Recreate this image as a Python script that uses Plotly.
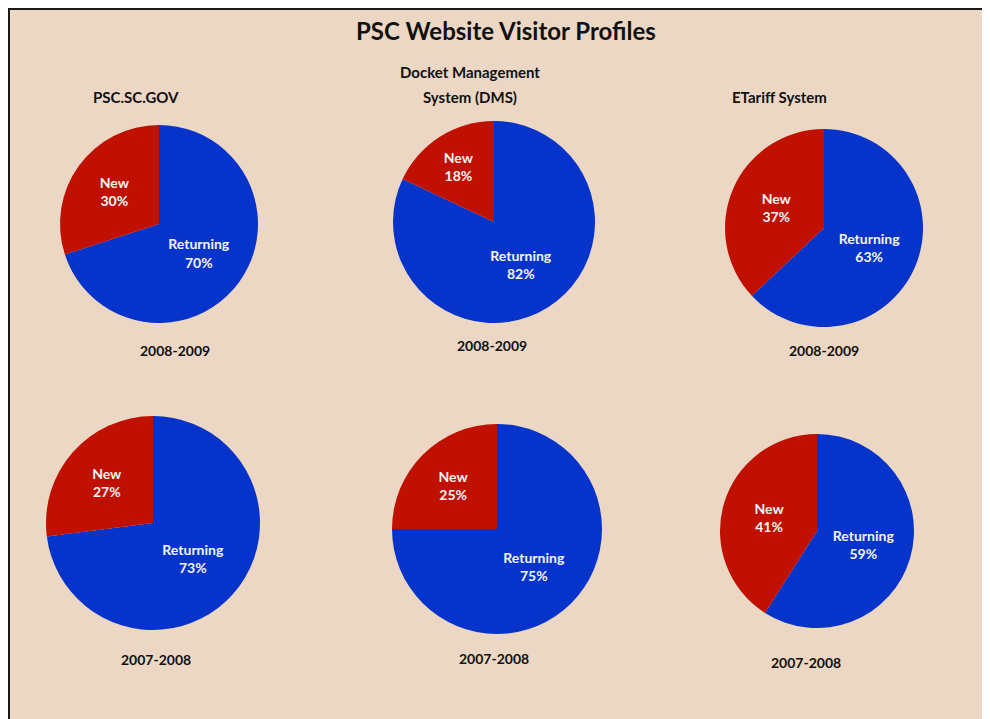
import plotly.graph_objects as go

# page body adds an 8px offset; figure is sized to fill the rest of the window
OFF = 8
W, H = 990 - OFF, 719 - OFF

title = "PSC Website Visitor Profiles"
systems = [["PSC.SC.GOV"], ["Docket Management", "System (DMS)"], ["ETariff System"]]
periods = ["2008-2009", "2007-2008"]
slice_labels = ["Returning", "New"]

# percent values [Returning, New] per system, per period
returning_2008_2009 = [70, 82, 63]
new_2008_2009 = [30, 18, 37]
returning_2007_2008 = [73, 75, 59]
new_2007_2008 = [27, 25, 41]

colors = ["#0633C9", "#BF1000"]


def px(x):
    return (x - OFF) / W


def py(y):
    return 1 - (y - OFF) / H


# layout geometry in window pixels: pie centers and radii
centers = [[(159, 224), (494, 222), (824, 228)],
           [(153, 523), (497, 529), (817, 531)]]
radii = [[99, 101, 99], [107, 105, 97]]
sys_title_x = [136, 470, 779]
sys_title_y = [[97], [72, 97], [97]]
period_pos = [[(175, 350), (492, 345), (824, 350)],
              [(156, 659), (494, 658), (806, 662)]]

values = [
    list(zip(returning_2008_2009, new_2008_2009)),
    list(zip(returning_2007_2008, new_2007_2008)),
]

fig = go.Figure()
for row in range(2):
    for col in range(3):
        cx, cy = centers[row][col]
        r = radii[row][col]
        fig.add_trace(go.Pie(
            labels=slice_labels,
            values=list(values[row][col]),
            sort=False,
            direction="clockwise",
            rotation=0,
            marker=dict(colors=colors, line=dict(width=0)),
            texttemplate="%{label}<br>%{value}%",
            textposition="inside",
            insidetextorientation="horizontal",
            textfont=dict(family="Lato", size=14, color="#F4F4F4", weight="bold"),
            showlegend=False,
            hoverinfo="label+value",
            domain=dict(x=[px(cx - r), px(cx + r)],
                        y=[py(cy + r), py(cy - r)]),
        ))

txt = dict(xref="paper", yref="paper", showarrow=False, xanchor="center", yanchor="middle")
annotations = [dict(text="<b>" + title + "</b>", x=px(506), y=py(31),
                    font=dict(family="Lato", size=24, color="#111111"), **txt)]
for i, lines in enumerate(systems):
    for j, line in enumerate(lines):
        annotations.append(dict(text="<b>" + line + "</b>", x=px(sys_title_x[i]),
                                y=py(sys_title_y[i][j]),
                                font=dict(family="Lato", size=15, color="#111111"), **txt))
for row in range(2):
    for col in range(3):
        x, y = period_pos[row][col]
        annotations.append(dict(text="<b>" + periods[row] + "</b>", x=px(x), y=py(y),
                                font=dict(family="Lato", size=14, color="#111111"), **txt))

fig.update_layout(
    width=W, height=H,
    margin=dict(l=0, r=0, t=0, b=0),
    paper_bgcolor="#ECD7C4",
    plot_bgcolor="#ECD7C4",
    annotations=annotations,
    shapes=[
        dict(type="line", xref="paper", yref="paper", x0=px(9), x1=px(9), y0=0, y1=1,
             line=dict(color="#1a1a1a", width=2)),
        dict(type="line", xref="paper", yref="paper", x0=px(9), x1=1, y0=py(9), y1=py(9),
             line=dict(color="#1a1a1a", width=2)),
    ],
)

fig.write_html("out.html")
